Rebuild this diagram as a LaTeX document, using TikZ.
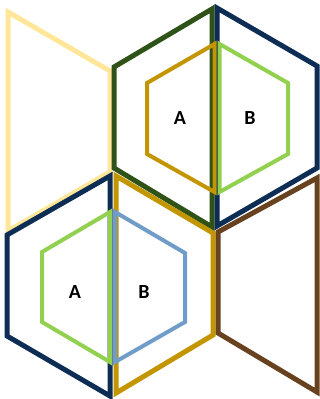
\documentclass[tikz,border=0pt]{standalone}
\usepackage{fontspec}
\setmainfont{Carlito}
\definecolor{paleyellow}{HTML}{FFE699}
\definecolor{darkgreen}{HTML}{2E5218}
\definecolor{navy}{HTML}{0E2D55}
\definecolor{gold}{HTML}{C39500}
\definecolor{lightgreen}{HTML}{92D050}
\definecolor{steelblue}{HTML}{6F9CC8}
\definecolor{brown}{HTML}{68421F}
\tikzset{
  outer/.style={line width=5pt, line join=miter},
  inner/.style={line width=4pt, line join=miter},
  lbl/.style={font=\bfseries\fontsize{20}{24}\selectfont, text=black}
}
\begin{document}
\begin{tikzpicture}[x=1pt,y=-1pt]
\useasboundingbox (0,0) rectangle (320,399);
% top-left pale yellow
\draw[outer, paleyellow] (8,12) -- (110,71) -- (110,172) -- (8,231) -- cycle;
% top-right hexagon
\draw[outer, darkgreen] (212,9) -- (114,67) -- (114,168) -- (212,227) -- cycle;
\draw[outer, navy] (217,8) -- (317,66) -- (317,168) -- (217,226) -- cycle;
\draw[inner, gold] (214.5,44) -- (147,83) -- (147,154) -- (214.5,192) -- cycle;
\draw[inner, lightgreen] (219.5,44) -- (288,83) -- (288,154) -- (219.5,192) -- cycle;
\node[lbl] (a1) at (180,118) {A};
\node[lbl] (b1) at (250,118) {B};
% bottom-left hexagon
\draw[outer, navy] (110,176) -- (7,235) -- (7,336) -- (110,396) -- cycle;
\draw[outer, gold] (116,176) -- (213,233) -- (213,335) -- (116,393) -- cycle;
\draw[inner, lightgreen] (110,212) -- (42,252) -- (42,322) -- (110,362) -- cycle;
\draw[inner, steelblue] (115,212) -- (185,253) -- (185,322) -- (115,362) -- cycle;
\node[lbl] (a2) at (75,292) {A};
\node[lbl] (b2) at (144,292) {B};
% bottom-right brown
\draw[outer, brown] (218,232) -- (317,178) -- (317,392) -- (218,333) -- cycle;
\end{tikzpicture}
\end{document}
